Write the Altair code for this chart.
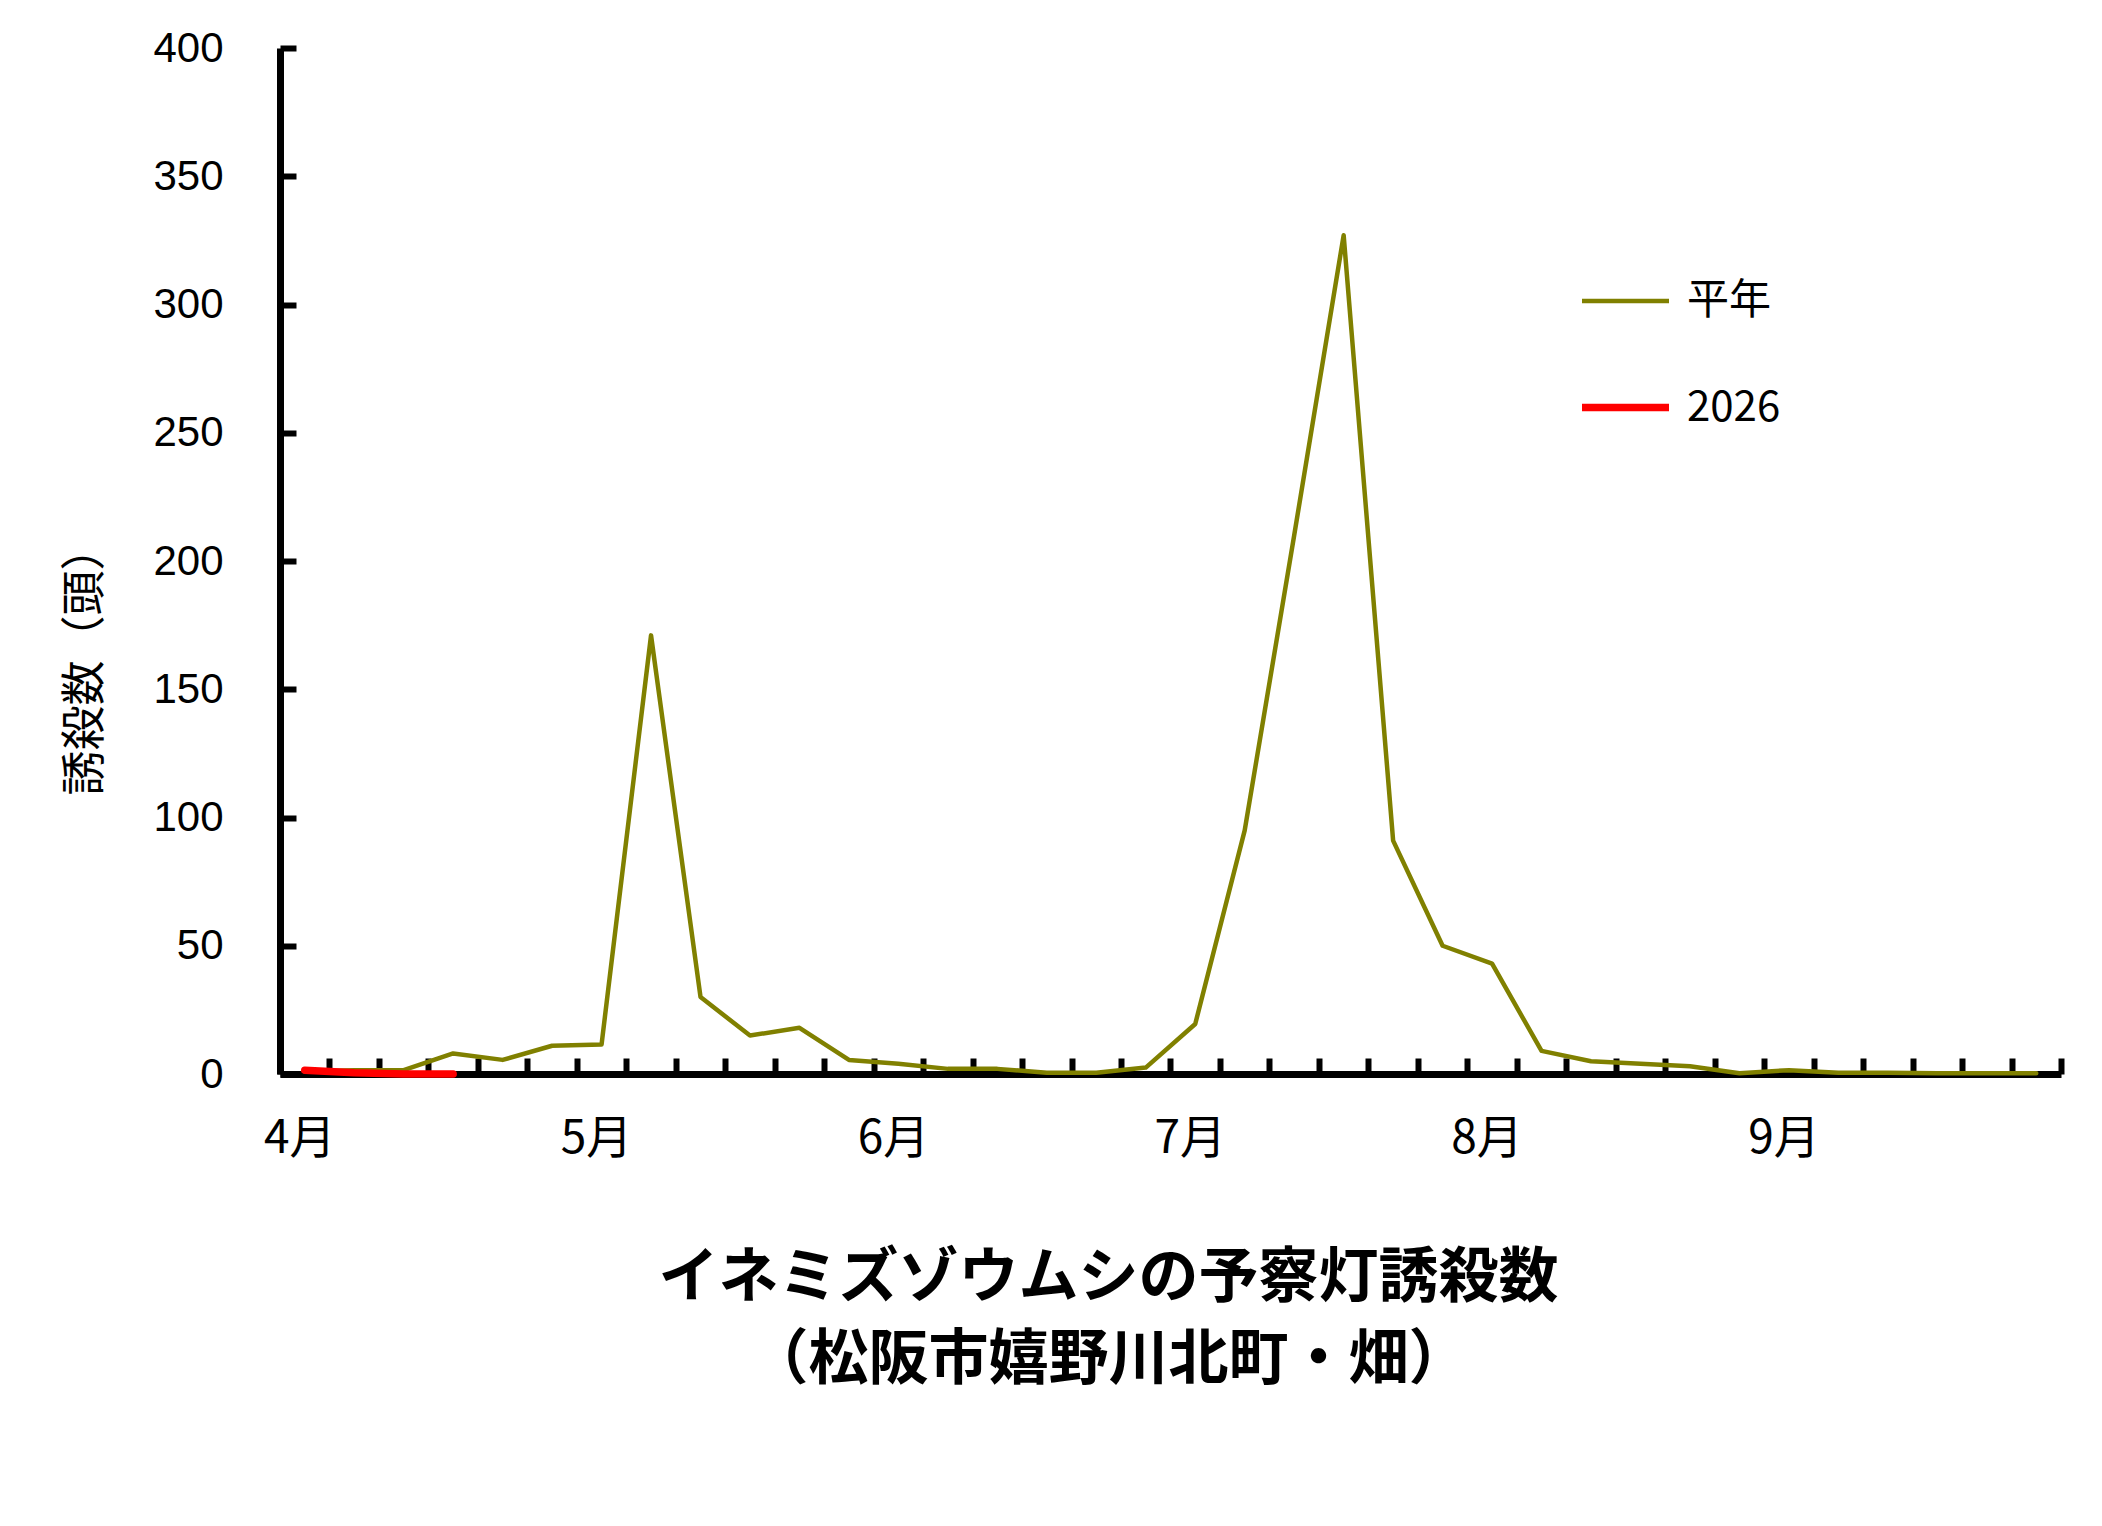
import altair as alt
import pandas as pd

MONTHS = ["4", "5", "6", "7", "8", "9"]
HALVES = ["1", "2", "3", "4", "5", "6"]
PERIODS = [f"{m}-{h}" for m in MONTHS for h in HALVES]

HEINEN = [1, 1.5, 1.5, 8, 5.5, 11,
          11.5, 171, 30, 15, 18, 5.5,
          4, 2, 2, 0.5, 0.5, 2.5,
          19.5, 95, 210, 327, 91, 50,
          43, 9, 5, 4, 3, 0.3,
          1.5, 0.5, 0.5, 0.3, 0.3, 0.3]
Y2026 = [1.5, 0.5, 0, 0]

SERIES = ["平年", "2026"]
COLORS = ["#808000", "#FF0000"]
WIDTHS = [4.5, 7.5]
Y_TICKS = [0, 50, 100, 150, 200, 250, 300, 350, 400]
MONTH_TICKS = [f"{m}-1" for m in MONTHS]

rows = [{"period": p, "series": "平年", "value": v} for p, v in zip(PERIODS, HEINEN)]
rows += [{"period": p, "series": "2026", "value": v} for p, v in zip(PERIODS, Y2026)]
df = pd.DataFrame(rows)

W, H = 1781, 1026

xscale = alt.Scale(type="band", domain=PERIODS, paddingInner=0, paddingOuter=0)
yscale = alt.Scale(domain=[0, 400], nice=False)
cscale = alt.Scale(domain=SERIES, range=COLORS)
wscale = alt.Scale(domain=SERIES, range=WIDTHS)

legend = alt.Legend(
    title=None, orient="none", legendX=1298, legendY=207,
    symbolType="stroke", symbolSize=7569, rowPadding=38,
    labelFont="Noto Sans CJK JP", labelFontSize=42, labelColor="black",
    labelOffset=14, padding=0, direction="vertical",
)

x_main = alt.X("period:O", scale=xscale, sort=PERIODS, title=None,
               axis=alt.Axis(orient="bottom", values=MONTH_TICKS,
                             labelExpr="split(datum.value,'-')[0] + '月'",
                             labelAngle=0, ticks=False, domain=True,
                             domainColor="black", domainWidth=7,
                             labelFont="Noto Sans CJK JP", labelFontSize=46,
                             labelColor="black", labelPadding=42,
                             labelOffset=-5, zindex=0,
                             labelOverlap=False, grid=False))
y_main = alt.Y("value:Q", scale=yscale,
               title="誘殺数（頭）",
               axis=alt.Axis(orient="left", values=Y_TICKS, ticks=False,
                             domain=True, domainColor="black", domainWidth=7,
                             labelFont="Liberation Sans", labelFontSize=42,
                             labelColor="black", labelPadding=57, grid=False,
                             titleFont="Noto Sans CJK JP", titleFontSize=45,
                             titleFontWeight="normal", titleColor="black",
                             titlePadding=44, titleY=612, zindex=0))

color = alt.Color("series:N", scale=cscale, legend=legend)
swidth = alt.StrokeWidth("series:N", scale=wscale, legend=legend)

heinen_line = alt.Chart(df).transform_filter(
    alt.datum.series == "平年"
).mark_line(strokeCap="round", strokeJoin="round").encode(
    x=x_main, y=y_main, color=color, strokeWidth=swidth
)

red_line = alt.Chart(df).transform_filter(
    alt.datum.series == "2026"
).mark_line(strokeCap="round", strokeJoin="round").encode(
    x=alt.X("period:O", scale=xscale, sort=PERIODS, axis=None),
    y=alt.Y("value:Q", scale=yscale, axis=None),
    color=color, strokeWidth=swidth
)

tick_layer = alt.Chart(df).mark_line(opacity=0).encode(
    x=alt.X("period:O", scale=xscale, sort=PERIODS, title=None,
            axis=alt.Axis(orient="top", offset=-H, labels=False, domain=False,
                          ticks=True, tickBand="extent", tickSize=16,
                          tickWidth=6, tickColor="black", grid=False, zindex=0)),
    y=alt.Y("value:Q", scale=yscale, title=None,
            axis=alt.Axis(orient="right", offset=-W, labels=False, domain=False,
                          values=Y_TICKS, ticks=True, tickSize=16,
                          tickWidth=6, tickColor="black", grid=False, zindex=0)),
    detail="series:N",
)

chart = alt.layer(heinen_line, tick_layer, red_line).resolve_axis(
    x="independent", y="independent"
).properties(
    width=W, height=H,
    padding={"left": 55, "top": 19, "right": 20, "bottom": 20},
    title=alt.TitleParams(
        text=["イネミズゾウムシの予察灯誘殺数", "（松阪市嬉野川北町・畑）"],
        orient="bottom", anchor="middle", font="Noto Sans CJK JP",
        fontSize=60, fontWeight="bold", lineHeight=82, offset=89, dx=-62,
        color="black",
    ),
).configure(background="white").configure_view(stroke=None)

chart.save("out.html", embed_options={"renderer": "svg", "actions": False})
